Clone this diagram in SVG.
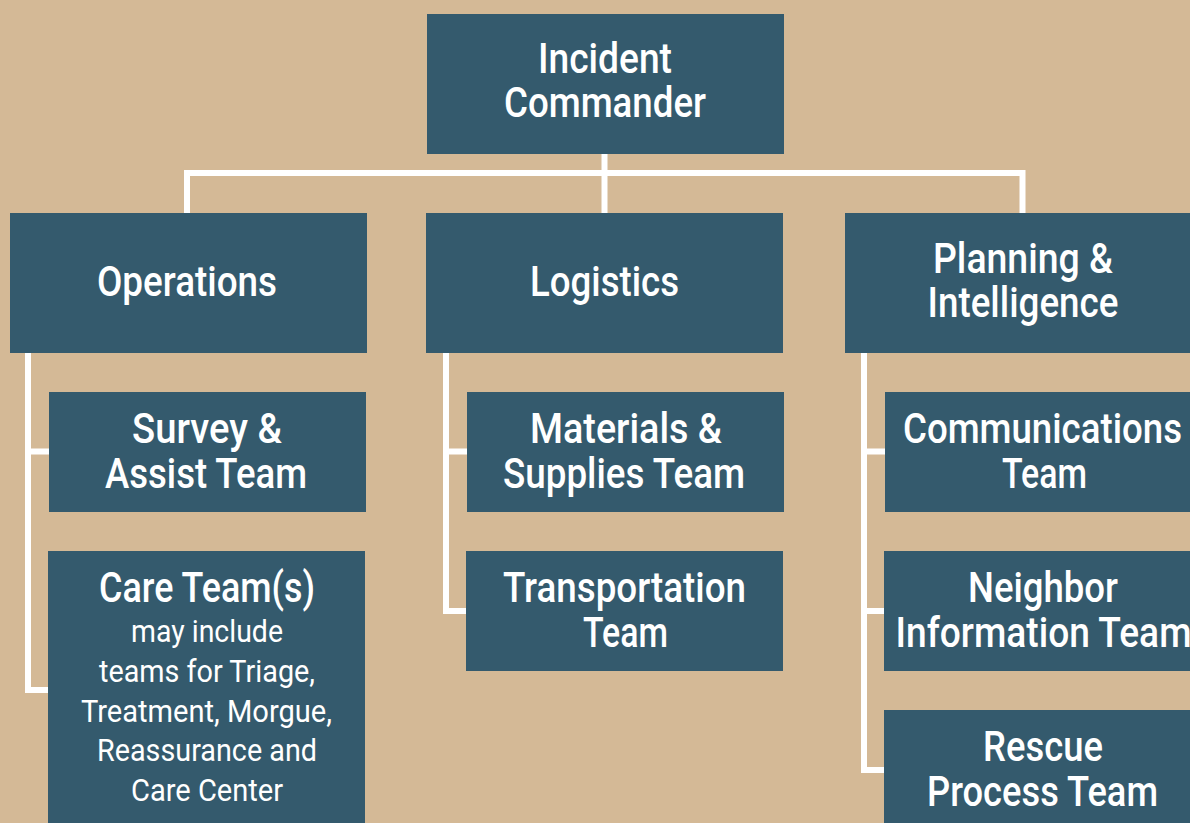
<svg xmlns="http://www.w3.org/2000/svg" width="1190" height="823" viewBox="0 0 1190 823">
<style>
.bg{fill:#D4B996}
.box{fill:#345A6D}
.t{fill:#FFFFFF;font-family:Roboto,"Liberation Sans",sans-serif;font-size:42px;font-weight:500;text-anchor:middle}
.s{fill:#FFFFFF;font-family:Roboto,"Liberation Sans",sans-serif;font-size:32px;font-weight:400;text-anchor:middle}
.c{fill:none;stroke:#FFFFFF;stroke-width:6;stroke-linejoin:miter}
</style>
<rect class="bg" x="0" y="0" width="1190" height="823"/>
<g id="connectors">
<path class="c" d="M187,213 V173 H1022.5 V213"/>
<path class="c" d="M604.5,154 V213"/>
<path class="c" d="M28,353 V690 H49 M28,451.5 H49"/>
<path class="c" d="M446,353 V611 H467 M446,451.5 H467"/>
<path class="c" d="M864,353 V770 H885 M864,451.5 H885 M864,611 H885"/>
</g>
<g id="incident-commander">
<rect class="box" x="427" y="14" width="357" height="140"/>
<text class="t" x="605" y="73" textLength="134" lengthAdjust="spacingAndGlyphs">Incident</text>
<text class="t" x="605" y="117" textLength="202" lengthAdjust="spacingAndGlyphs">Commander</text>
</g>
<g id="operations">
<rect class="box" x="10" y="213" width="357" height="140"/>
<text class="t" x="187" y="296" textLength="180" lengthAdjust="spacingAndGlyphs">Operations</text>
</g>
<g id="logistics">
<rect class="box" x="426" y="213" width="357" height="140"/>
<text class="t" x="604.5" y="296" textLength="149" lengthAdjust="spacingAndGlyphs">Logistics</text>
</g>
<g id="planning-intelligence">
<rect class="box" x="845" y="213" width="357" height="140"/>
<text class="t" x="1023" y="273" textLength="180" lengthAdjust="spacingAndGlyphs">Planning &amp;</text>
<text class="t" x="1023" y="317" textLength="191" lengthAdjust="spacingAndGlyphs">Intelligence</text>
</g>
<g id="survey-assist">
<rect class="box" x="49" y="392" width="317" height="120"/>
<text class="t" x="207" y="443" textLength="150" lengthAdjust="spacingAndGlyphs">Survey &amp;</text>
<text class="t" x="206" y="488" textLength="202" lengthAdjust="spacingAndGlyphs">Assist Team</text>
</g>
<g id="care-teams">
<rect class="box" x="48" y="551" width="317" height="280"/>
<text class="t" x="207" y="602" textLength="216" lengthAdjust="spacingAndGlyphs">Care Team(s)</text>
<text class="s" x="207" y="642" textLength="152" lengthAdjust="spacingAndGlyphs">may include</text>
<text class="s" x="207" y="682" textLength="216" lengthAdjust="spacingAndGlyphs">teams for Triage,</text>
<text class="s" x="206.5" y="722" textLength="251" lengthAdjust="spacingAndGlyphs">Treatment, Morgue,</text>
<text class="s" x="207" y="761" textLength="220" lengthAdjust="spacingAndGlyphs">Reassurance and</text>
<text class="s" x="207" y="801" textLength="152" lengthAdjust="spacingAndGlyphs">Care Center</text>
</g>
<g id="materials-supplies">
<rect class="box" x="467" y="392" width="317" height="120"/>
<text class="t" x="626" y="443" textLength="192" lengthAdjust="spacingAndGlyphs">Materials &amp;</text>
<text class="t" x="624" y="488" textLength="242" lengthAdjust="spacingAndGlyphs">Supplies Team</text>
</g>
<g id="transportation">
<rect class="box" x="466" y="551" width="317" height="120"/>
<text class="t" x="624.5" y="602" textLength="243" lengthAdjust="spacingAndGlyphs">Transportation</text>
<text class="t" x="625.5" y="647" textLength="85" lengthAdjust="spacingAndGlyphs">Team</text>
</g>
<g id="communications">
<rect class="box" x="885" y="392" width="317" height="120"/>
<text class="t" x="1042.5" y="443" textLength="279" lengthAdjust="spacingAndGlyphs">Communications</text>
<text class="t" x="1044.5" y="488" textLength="85" lengthAdjust="spacingAndGlyphs">Team</text>
</g>
<g id="neighbor-information">
<rect class="box" x="884" y="551" width="317" height="120"/>
<text class="t" x="1043" y="602" textLength="150" lengthAdjust="spacingAndGlyphs">Neighbor</text>
<text class="t" x="1043.5" y="647" textLength="296" lengthAdjust="spacingAndGlyphs">Information Team</text>
</g>
<g id="rescue-process">
<rect class="box" x="884" y="710" width="317" height="130"/>
<text class="t" x="1043" y="761" textLength="120" lengthAdjust="spacingAndGlyphs">Rescue</text>
<text class="t" x="1042.5" y="806" textLength="231" lengthAdjust="spacingAndGlyphs">Process Team</text>
</g>
</svg>
